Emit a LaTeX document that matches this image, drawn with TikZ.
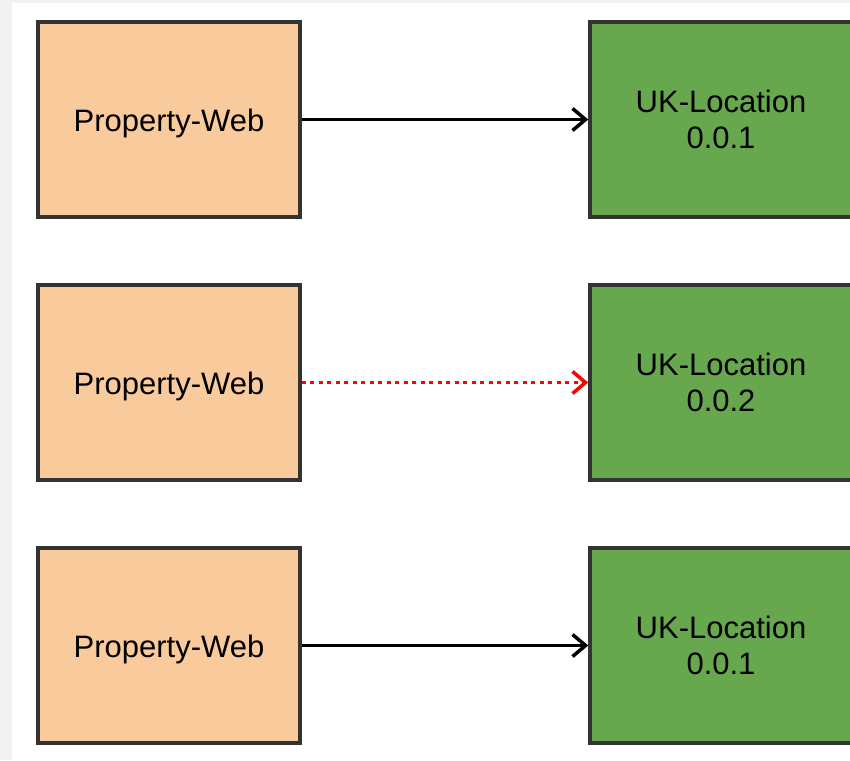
\documentclass[tikz,border=0pt]{standalone}
\usepackage{fontspec}
\setmainfont{Liberation Sans}
\usetikzlibrary{arrows.meta}
\definecolor{peach}{HTML}{F8CA9C}
\definecolor{leaf}{HTML}{67A84F}
\definecolor{edge}{HTML}{333333}
\definecolor{bggray}{HTML}{F2F2F2}
\newcommand{\lowertext}[1]{\raisebox{-4pt}[\height][\depth]{#1}}
\tikzset{
  box/.style={draw=edge, line width=3.5pt, minimum width=262pt, minimum height=195pt, inner sep=0pt, align=center, font=\fontsize{31}{36}\selectfont},
  webbox/.style={box, fill=peach},
  locbox/.style={box, fill=leaf},
  link/.style={line width=3pt, -{Straight Barb[length=13pt,width=22pt,line width=3.5pt]}},
  brokenlink/.style={link, red, dash pattern=on 4pt off 4.5pt}
}
\begin{document}
\begin{tikzpicture}[x=1pt,y=1pt]
\useasboundingbox (0,0) rectangle (850,-760);
\fill[bggray] (0,0) rectangle (850,-760);
\fill[white] (12,-3) rectangle (850,-760);
\begin{scope}
\clip (0,0) rectangle (850,-760);
\node[webbox] (w1) at (169,-119.5) {\lowertext{Property-Web}};
\node[webbox] (w2) at (169,-382.5) {\lowertext{Property-Web}};
\node[webbox] (w3) at (169,-645.5) {\lowertext{Property-Web}};
\node[locbox] (l1) at (721,-119.5) {UK-Location\\0.0.1};
\node[locbox] (l2) at (721,-382.5) {UK-Location\\0.0.2};
\node[locbox] (l3) at (721,-645.5) {UK-Location\\0.0.1};
\end{scope}
\draw[link] (w1) -- (l1);
\draw[brokenlink] (w2) -- (l2);
\draw[link] (w3) -- (l3);
\end{tikzpicture}
\end{document}
